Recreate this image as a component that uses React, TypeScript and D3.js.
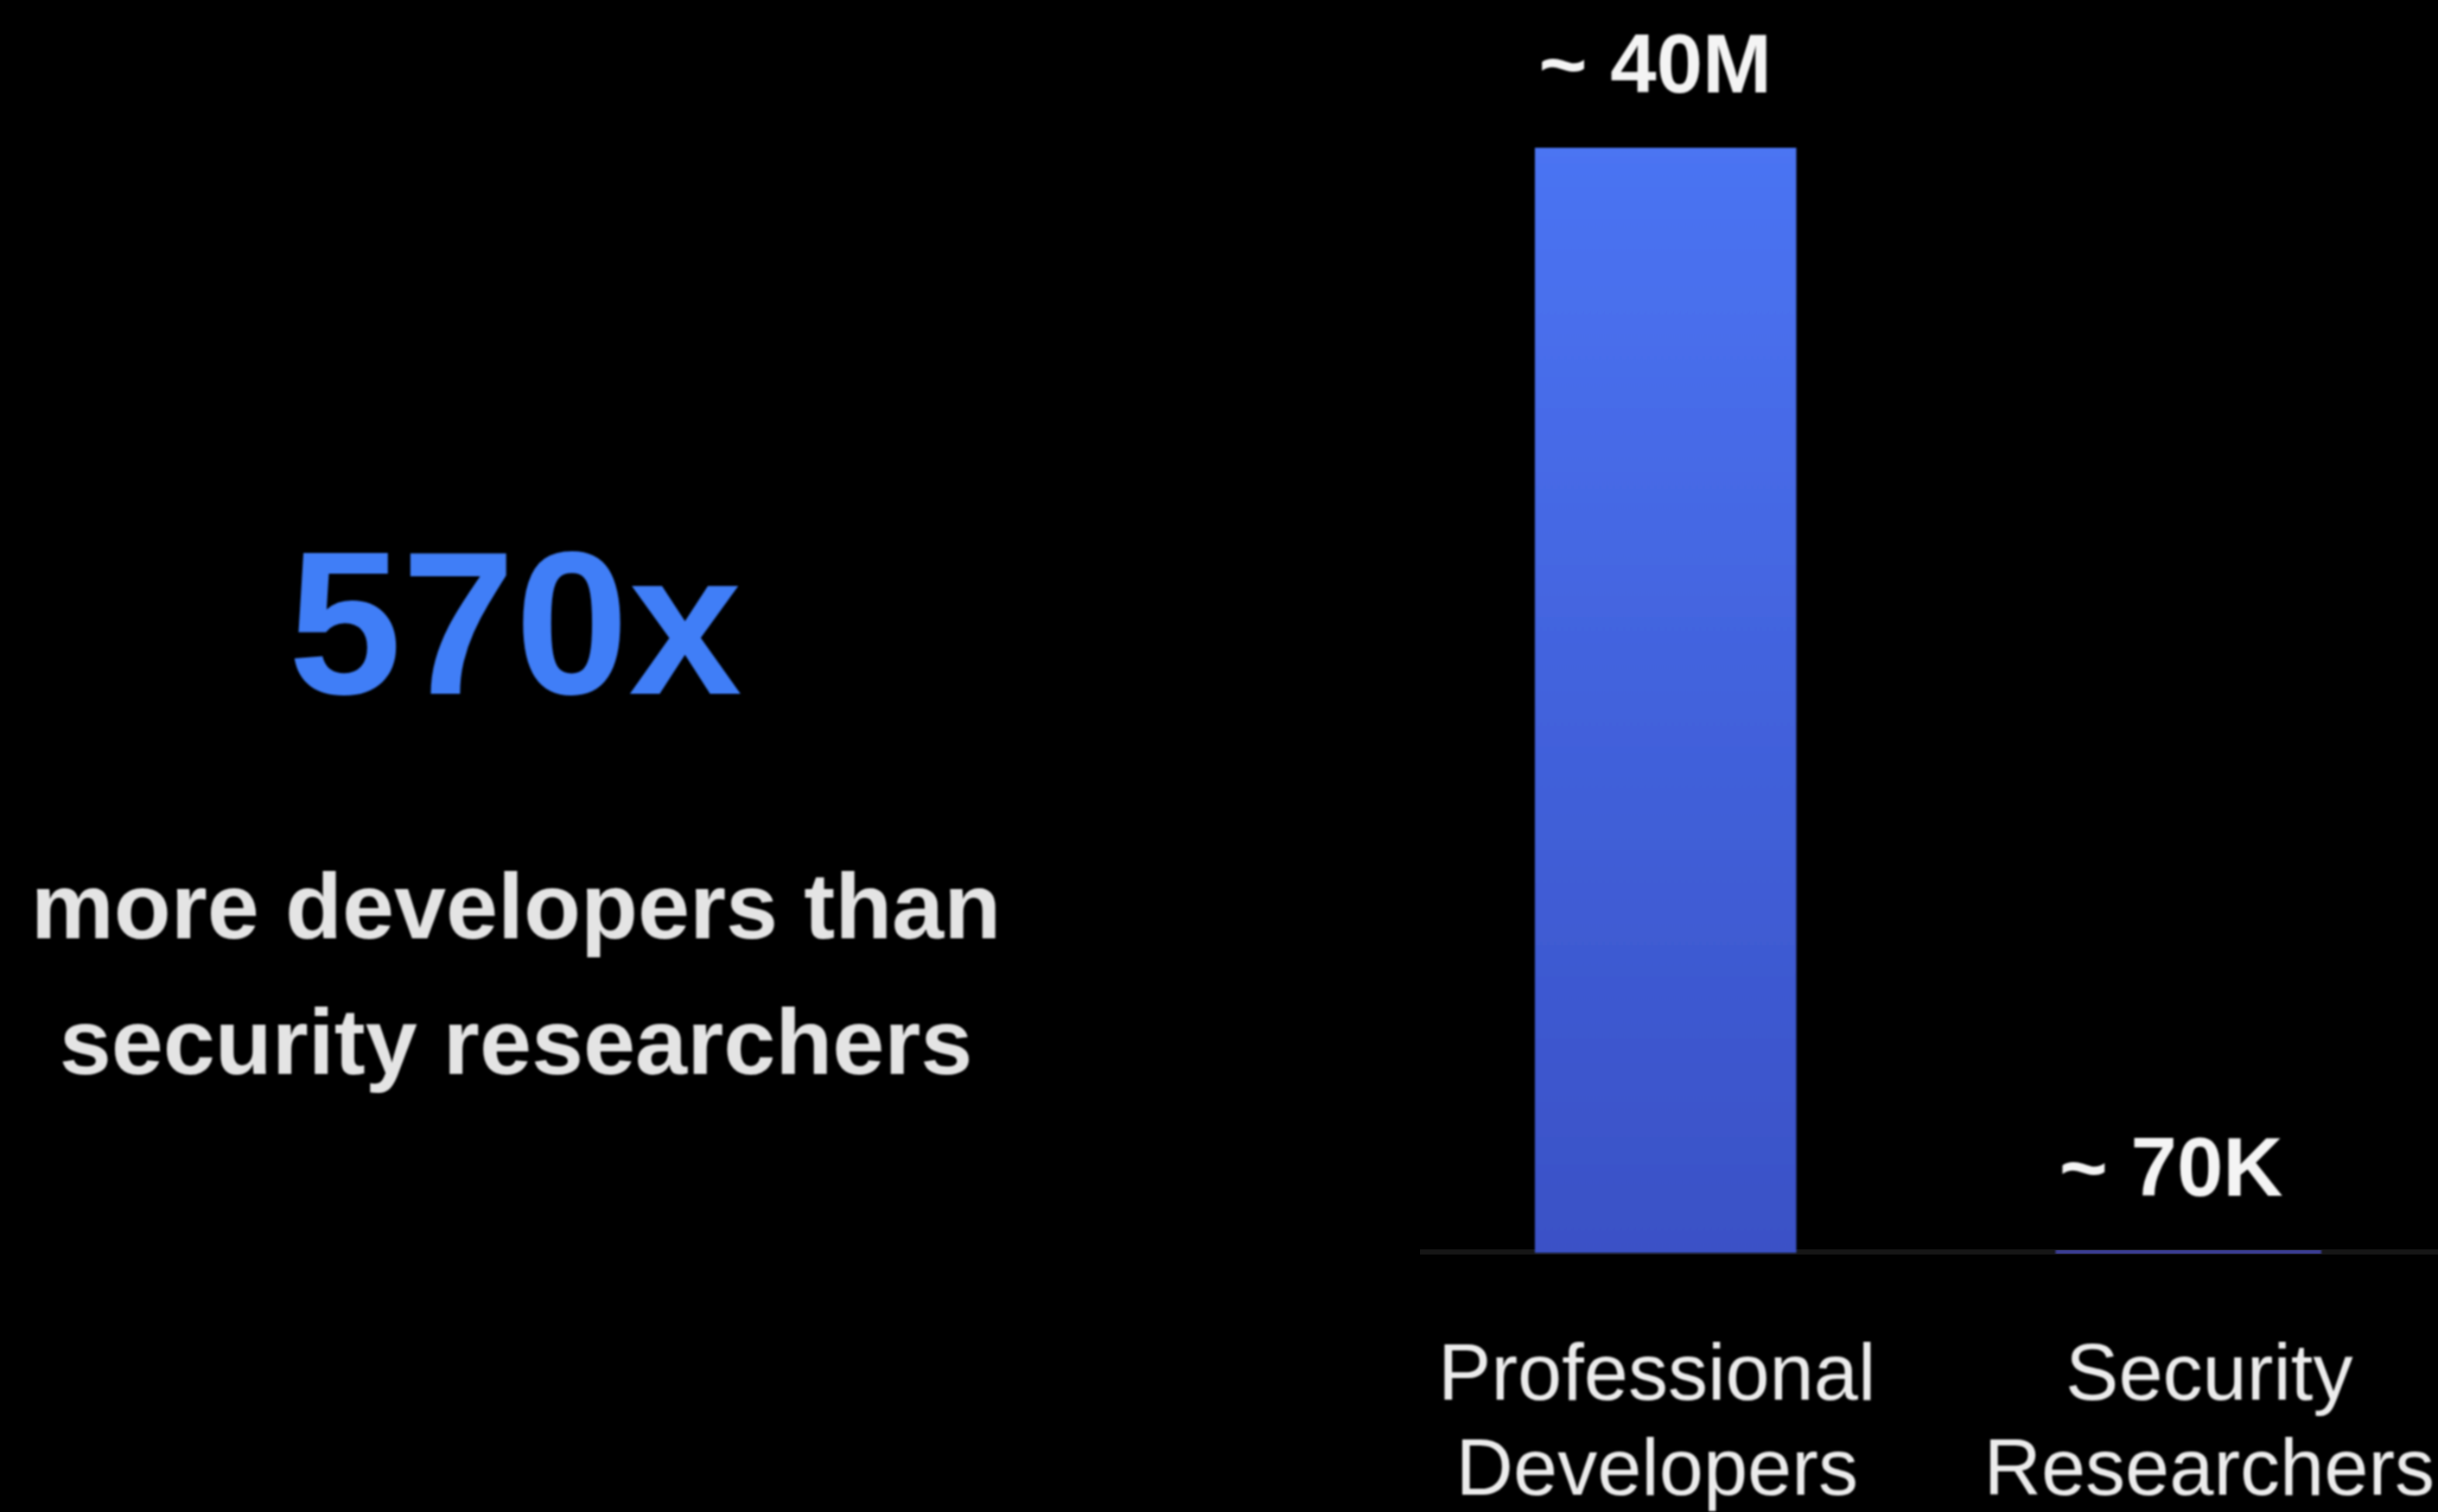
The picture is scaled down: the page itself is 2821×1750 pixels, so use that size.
import React from "react";
import * as d3 from "d3";

const categories = ["Professional Developers", "Security Researchers"];
const categoryLines = [["Professional", "Developers"], ["Security", "Researchers"]];
const values = [40000000, 70000];
const valueLabels = ["~ 40M", "~ 70K"];
const headline = "570x";
const subtitleLines = ["more developers than", "security researchers"];

const W = 2821;
const H = 1750;

export default function App() {
  const baseY = 1450;
  const y = d3.scaleLinear().domain([0, 40000000]).range([baseY, 171]);
  const x = d3
    .scaleBand<string>()
    .domain(categories)
    .range([1624.75, 2834.75])
    .paddingInner(0.5)
    .paddingOuter(0.25);
  const bw = x.bandwidth();
  const labelOffsets = [-12, -20];
  const catOffsets = [-10, 24];
  const font = "'Liberation Sans', Arial, Helvetica, sans-serif";

  return (
    <svg
      width={W}
      height={H}
      viewBox={`0 0 ${W} ${H}`}
      style={{ position: "absolute", left: 0, top: 0, display: "block" }}
    >
      <defs>
        <linearGradient id="barGrad" x1="0" y1="0" x2="0" y2="1">
          <stop offset="0%" stopColor="#4b74f3" />
          <stop offset="100%" stopColor="#3a51c6" />
        </linearGradient>
        <filter id="soft" x="-5%" y="-5%" width="110%" height="110%">
          <feGaussianBlur stdDeviation="1.2" />
        </filter>
      </defs>
      <rect x={0} y={0} width={W} height={H} fill="#000000" />

      {/* left headline */}
      <g fontFamily={font} textAnchor="middle" filter="url(#soft)">
        <text x={596} y={803} fontSize={236} fontWeight="bold" fill="#3f7ef7">
          {headline}
        </text>
        {subtitleLines.map((t, i) => (
          <text
            key={t}
            x={597}
            y={1086 + i * 157}
            fontSize={108}
            fontWeight="bold"
            fill="#e4e4e4"
          >
            {t}
          </text>
        ))}
      </g>

      {/* baseline */}
      <line x1={1643} x2={W} y1={baseY - 1} y2={baseY - 1} stroke="#161616" strokeWidth={6} />

      {/* bars */}
      {categories.map((c, i) => {
        const top = y(values[i]);
        const h = baseY - top;
        const small = h < 10;
        return (
          <rect
            key={c}
            x={x(c)!}
            y={top}
            width={bw}
            height={h}
            fill={small ? "#3b3d94" : "url(#barGrad)"}
            stroke={small ? "#3b3d94" : "none"}
            strokeWidth={small ? 5 : 0}
            filter="url(#soft)"
          />
        );
      })}

      {/* value labels */}
      <g fontFamily={font} textAnchor="middle" fontWeight="bold" fill="#f4f4f4" filter="url(#soft)">
        {categories.map((c, i) => {
          const top = y(values[i]);
          return (
            <text
              key={c}
              x={x(c)! + bw / 2 + labelOffsets[i]}
              y={top - 64}
              fontSize={96}
            >
              {valueLabels[i]}
            </text>
          );
        })}
      </g>

      {/* category labels */}
      <g fontFamily={font} textAnchor="middle" fill="#ececec" filter="url(#soft)">
        {categories.map((c, i) => (
          <text key={c} x={x(c)! + bw / 2 + catOffsets[i]} y={1620} fontSize={92}>
            {categoryLines[i].map((line, j) => (
              <tspan key={line} x={x(c)! + bw / 2 + catOffsets[i]} dy={j === 0 ? 0 : 110}>
                {line}
              </tspan>
            ))}
          </text>
        ))}
      </g>
    </svg>
  );
}
